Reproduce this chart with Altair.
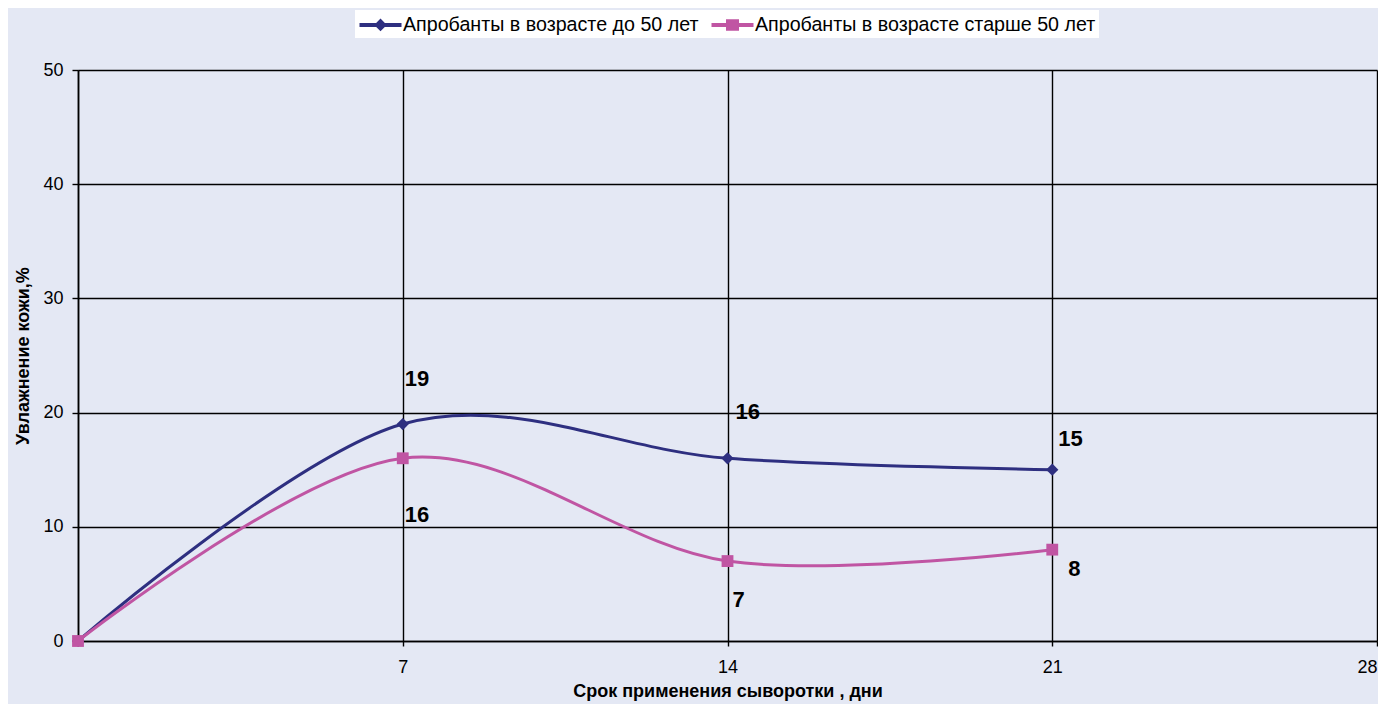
import altair as alt
import pandas as pd

days = [0, 7, 14, 21]
young = [0, 19, 16, 15]
old = [0, 16, 7, 8]
series = ["Апробанты в возрасте до 50 лет", "Апробанты в возрасте старше 50 лет"]
colors = ["#2E2F80", "#C055A3"]

x_ticks = [0, 7, 14, 21, 28]
y_ticks = [0, 10, 20, 30, 40, 50]

# label offsets (style only): (dx, dy) per labelled point
young_label_offsets = [(2, -45), (8, -46), (6, -31)]
old_label_offsets = [(2, 57), (5, 39), (16, 19)]

rows = []
for d, v in zip(days, young):
    rows.append({"day": d, "value": v, "series": series[0]})
for d, v in zip(days, old):
    rows.append({"day": d, "value": v, "series": series[1]})
df = pd.DataFrame(rows)

xs = alt.Scale(domain=[0, 28], nice=False, zero=False)
ys = alt.Scale(domain=[0, 50], nice=False)
cs = alt.Scale(domain=series, range=colors)

X = alt.X("day:Q", scale=xs,
          axis=alt.Axis(values=x_ticks, title="Срок применения сыворотки , дни",
                        labelExpr="datum.value == 0 ? '' : datum.label",
                        labelFlush=True,
                        tickSize=5, labelPadding=12, titlePadding=6))
Y = alt.Y("value:Q", scale=ys,
          axis=alt.Axis(values=y_ticks, title="Увлажнение кожи,%",
                        tickSize=6, labelPadding=9, titlePadding=10))

base = alt.Chart(df)
young_data = base.transform_filter(alt.datum.series == series[0])
old_data = base.transform_filter(alt.datum.series == series[1])

line_young = young_data.mark_line(interpolate="cardinal", strokeWidth=3, color=colors[0]).encode(x=X, y=Y)
line_old = old_data.mark_line(interpolate="cardinal", strokeWidth=3, color=colors[1]).encode(x=X, y=Y)

pts_young = young_data.mark_point(shape="diamond", filled=True, size=150, opacity=1,
                                  color=colors[0]).encode(x=X, y=Y)
pts_old = old_data.mark_point(shape="square", filled=True, size=140, opacity=1,
                              color=colors[1]).encode(x=X, y=Y)

path_young = "M-2,-0.19H2V0.19H-2Z M0,-0.6L0.6,0L0,0.6L-0.6,0Z"
path_old = "M-2,-0.19H2V0.19H-2Z M-0.62,-0.55H0.62V0.55H-0.62Z"

leg = alt.Legend(title=None, orient="none", legendX=277, legendY=-60,
                 direction="horizontal", columns=2, fillColor="white",
                 padding=3, symbolSize=441, symbolOffset=11,
                 labelFontSize=19.66, labelFont="Liberation Sans",
                 labelColor="black", labelOffset=11, columnPadding=11,
                 labelLimit=500)
# legend-only layer: points pushed outside the x domain and clipped away
legend_layer = base.transform_calculate(day="-10").mark_point(
    filled=True, opacity=1, clip=True).encode(
    x=X, y=Y,
    color=alt.Color("series:N", scale=cs, legend=leg),
    shape=alt.Shape("series:N", scale=alt.Scale(domain=series, range=[path_young, path_old]), legend=leg))

layers = [line_young, line_old, pts_young, pts_old, legend_layer]

for i, (dx, dy) in enumerate(young_label_offsets):
    d, v = days[i + 1], young[i + 1]
    layers.append(
        alt.Chart(pd.DataFrame({"day": [d], "value": [v]})).mark_text(
            align="left", baseline="middle", dx=dx, dy=dy, fontSize=22,
            fontWeight="bold", font="Liberation Sans", color="black").encode(
            x=alt.X("day:Q", scale=xs), y=alt.Y("value:Q", scale=ys), text="value:Q"))
for i, (dx, dy) in enumerate(old_label_offsets):
    d, v = days[i + 1], old[i + 1]
    layers.append(
        alt.Chart(pd.DataFrame({"day": [d], "value": [v]})).mark_text(
            align="left", baseline="middle", dx=dx, dy=dy, fontSize=22,
            fontWeight="bold", font="Liberation Sans", color="black").encode(
            x=alt.X("day:Q", scale=xs), y=alt.Y("value:Q", scale=ys), text="value:Q"))

chart = alt.layer(*layers).properties(
    width=1299, height=571,
    autosize=alt.AutoSizeParams(type="none"),
    padding={"left": 70, "top": 62, "right": 1, "bottom": 63},
    background="#E4E8F4",
).configure_view(stroke=None).configure_axis(
    grid=True, gridColor="black", gridWidth=1.4, gridOpacity=1,
    domainColor="black", domainWidth=1.6, tickColor="black", tickWidth=1.4,
    labelFont="Liberation Sans", labelFontSize=18, labelColor="black",
    titleFont="Liberation Sans", titleFontSize=18, titleFontWeight="bold", titleColor="black",
)

chart.save("out.html", embed_options={"renderer": "svg", "actions": False})
